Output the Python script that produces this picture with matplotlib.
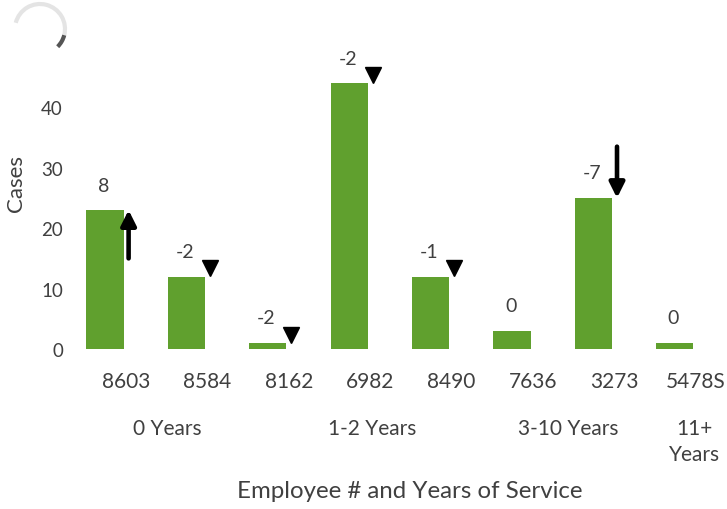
import matplotlib
matplotlib.use("Agg")
import matplotlib.pyplot as plt
from matplotlib.patches import Arc
from matplotlib import transforms

# ---- data ----
employees = ["8603", "8584", "8162", "6982", "8490", "7636", "3273", "5478S"]
cases = [23, 12, 1, 44, 12, 3, 25, 1]
changes = [8, -2, -2, -2, -1, 0, -7, 0]
groups = ["0 Years", "1-2 Years", "3-10 Years", "11+\nYears"]
yticks = [0, 10, 20, 30, 40]

# ---- style ----
plt.rcParams['font.family'] = ['Lato', 'DejaVu Sans']
TEXT = "#404040"
GREEN = "#60a02e"

fig = plt.figure(figsize=(7.27, 5.1), dpi=100)
W, H = 727, 510
ax = fig.add_axes([68 / W, (H - 350) / H, 651 / W, 302 / H])

x = list(range(len(employees)))
ax.bar(x, cases, width=0.455, color=GREEN)
ax.set_xlim(-0.4545, 7.543)
ax.set_ylim(0, 50)
ax.set_yticks(yticks)
ax.set_yticklabels([str(v) for v in yticks], fontsize=13.5, color=TEXT)
ax.tick_params(axis='y', length=0, pad=3.6)
ax.tick_params(axis='x', length=0, pad=16)
ax.set_xticks(x)
ax.set_xticklabels(employees, fontsize=15, color=TEXT)
for s in ax.spines.values():
    s.set_visible(False)

# category labels sit to the right of the bars in the reference
shift = transforms.ScaledTranslation(21 / 100, 0, fig.dpi_scale_trans)
for t in ax.get_xticklabels():
    t.set_transform(t.get_transform() + shift)

fig.text(16 / W, 1 - 184 / H, "Cases", rotation=90, ha="center", va="center",
         fontsize=16, color=TEXT)

# change labels and indicators
for xi, v, c in zip(x, cases, changes):
    ax.annotate(str(c), (xi, v), xytext=(-1, 18), textcoords="offset points",
                ha="center", va="center", fontsize=14, color=TEXT)
    mx = xi + 0.29
    if c >= 5:
        ax.annotate("", xy=(mx, v), xytext=(mx, v - 8),
                    arrowprops=dict(arrowstyle="-|>,head_width=0.45,head_length=0.9",
                                    lw=3.3, color="black", shrinkA=0, shrinkB=0))
    elif c <= -5:
        ax.annotate("", xy=(mx, v), xytext=(mx, v + 8.5),
                    arrowprops=dict(arrowstyle="-|>,head_width=0.45,head_length=0.9",
                                    lw=3.3, color="black", shrinkA=0, shrinkB=0))
    elif c < 0:
        ax.plot([mx], [v + 1.35], marker="v", markersize=12, color="black",
                linestyle="none", clip_on=False)

# group labels (multi-level category axis)
group_pos = [0.77, 3.28, 5.69, 7.24]
down = transforms.ScaledTranslation(0, -69 / 100, fig.dpi_scale_trans)
for gx, g in zip(group_pos, groups):
    t = ax.text(gx, 0, g, transform=ax.get_xaxis_transform(), ha="center", va="top",
                fontsize=15, color=TEXT, linespacing=1.35)
    t.set_transform(t.get_transform() + down)

fig.text(410 / W, 1 - 492 / H, "Employee # and Years of Service", ha="center", va="center",
         fontsize=17.3, color=TEXT)

# loading spinner overlay in the top-left corner
fig.add_artist(Arc((40 / W, 1 - 30 / H), 50 / W, 50 / H, theta1=-20, theta2=160,
                   transform=fig.transFigure, color="#e4e4e4", lw=3))
fig.add_artist(Arc((40 / W, 1 - 30 / H), 50 / W, 50 / H, theta1=-55, theta2=-20,
                   transform=fig.transFigure, color="#555555", lw=3))

fig.savefig("out.png", dpi=100)
